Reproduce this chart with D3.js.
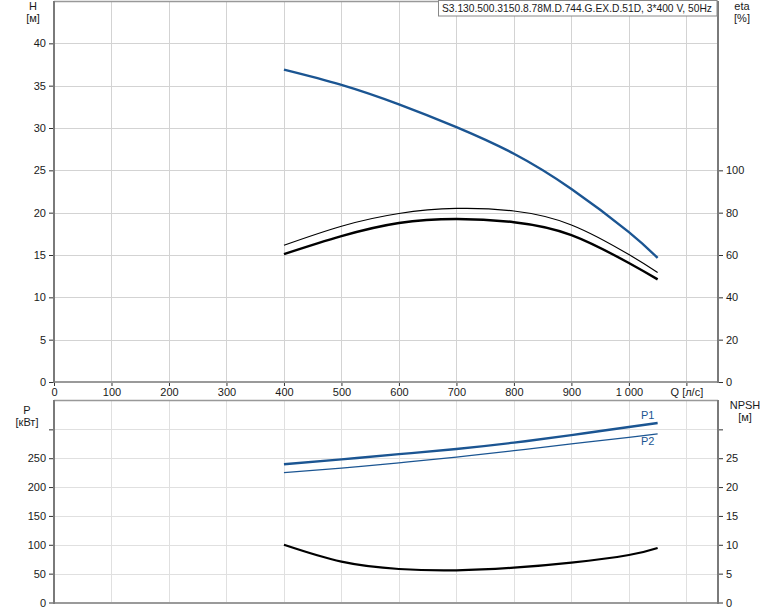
<!DOCTYPE html>
<html><head><meta charset="utf-8">
<script src="https://cdn.jsdelivr.net/npm/d3@7"></script>
<style>
html,body{margin:0;padding:0;background:#fff;}
svg{display:block;font-family:"Liberation Sans",Arial,sans-serif;}
</style></head>
<body>
<svg id="c" width="774" height="611"></svg>
<script>
// ---- data ----
const title = "S3.130.500.3150.8.78M.D.744.G.EX.D.51D, 3*400 V, 50Hz";
const q = [400, 500, 600, 700, 800, 900, 1000, 1050];
const head = [36.9, 35.1, 32.8, 30.1, 26.96, 22.8, 17.7, 14.65];
const etaPump = [64.6, 73.6, 79.6, 82.0, 80.8, 74.2, 60.2, 51.7];
const etaTotal = [60.4, 68.9, 75.1, 77.0, 75.5, 69.4, 56.2, 48.5];
const p1 = [239.5, 248, 257, 266, 277, 290, 304, 311];
const p2 = [225, 233, 242, 252, 263, 275, 286, 292];
const npsh = [10.0, 7.07, 5.8, 5.58, 6.03, 6.9, 8.23, 9.45];
const qTicks = [0, 100, 200, 300, 400, 500, 600, 700, 800, 900, 1000, 1100];
const qTickLabels = ["0","100","200","300","400","500","600","700","800","900","1 000","Q [л/с]"];
const hTicks = [0, 5, 10, 15, 20, 25, 30, 35, 40];
const hGrid = [0, 5, 10, 15, 20, 25, 30, 35, 40, 45];
const etaTicks = [0, 20, 40, 60, 80, 100];
const pTicks = [0, 50, 100, 150, 200, 250];
const pGrid = [0, 50, 100, 150, 200, 250, 300];
const nTicks = [0, 5, 10, 15, 20, 25];

// ---- layout ----
const L = 54, R = 718;
const svg = d3.select("#c");
const x = d3.scaleLinear().domain([0, 1155]).range([L, R]);
const yH = d3.scaleLinear().domain([0, 45]).range([382, 1]);
const yEta = d3.scaleLinear().domain([0, 180]).range([382, 1]);
const yP = d3.scaleLinear().domain([0, 350]).range([602.5, 400.5]);
const yN = d3.scaleLinear().domain([0, 35]).range([602.5, 400.5]);

const txt = "#1a1a1a";
const blue = "#1b5592";
const fs = 11;

function grid(yScale, vals, top, bottom, col) {
  const g = svg.append("g");
  g.selectAll(".h").data(vals).join("line")
    .attr("x1", L).attr("x2", R)
    .attr("y1", d => Math.round(yScale(d)) + 0.5).attr("y2", d => Math.round(yScale(d)) + 0.5)
    .attr("stroke", col).attr("stroke-width", 1);
  g.selectAll(".v").data(qTicks).join("line")
    .attr("x1", d => Math.round(x(d)) + 0.5).attr("x2", d => Math.round(x(d)) + 0.5)
    .attr("y1", top).attr("y2", bottom)
    .attr("stroke", col).attr("stroke-width", 1);
}
grid(yH, hGrid, 1, 382, "#d3d3d3");
grid(yP, pGrid, 400.5, 602.5, "#e0e0e0");

// frames
function frame(top, bottom) {
  svg.append("line").attr("x1", L).attr("x2", R).attr("y1", top + 0.5).attr("y2", top + 0.5)
    .attr("stroke", "#999").attr("stroke-width", 1.5);
  svg.append("line").attr("x1", L).attr("x2", R + 1).attr("y1", bottom).attr("y2", bottom)
    .attr("stroke", "#9a9a9a").attr("stroke-width", 2);
  svg.append("line").attr("x1", L).attr("x2", L).attr("y1", top).attr("y2", bottom + 1)
    .attr("stroke", "#7a7a7a").attr("stroke-width", 2);
  svg.append("line").attr("x1", R).attr("x2", R).attr("y1", top).attr("y2", bottom + 1)
    .attr("stroke", "#7a7a7a").attr("stroke-width", 2);
}
frame(1, 382);
frame(400, 603);

// axes via d3
function styleAxis(g) {
  g.select(".domain").remove();
  g.selectAll(".tick line").attr("stroke", "#333");
  g.selectAll(".tick text").attr("fill", txt).attr("font-size", fs)
    .attr("font-family", '"Liberation Sans",Arial,sans-serif');
}
svg.append("g").attr("transform", `translate(${L - 1},0)`)
  .call(d3.axisLeft(yH).tickValues(hTicks).tickSize(4).tickPadding(3).tickFormat(d3.format("d")))
  .call(styleAxis);
svg.append("g").attr("transform", `translate(${R + 1},0)`)
  .call(d3.axisRight(yEta).tickValues(etaTicks).tickSize(4).tickPadding(3).tickFormat(d3.format("d")))
  .call(styleAxis);
svg.append("g").attr("transform", `translate(0,383)`)
  .call(d3.axisBottom(x).tickValues(qTicks).tickSize(3).tickPadding(2)
    .tickFormat((d, i) => qTickLabels[i]))
  .call(styleAxis);
svg.append("g").attr("transform", `translate(${L - 1},0)`)
  .call(d3.axisLeft(yP).tickValues(pGrid).tickSize(4).tickPadding(3)
    .tickFormat(d => pTicks.includes(d) ? d3.format("d")(d) : ""))
  .call(styleAxis);
svg.append("g").attr("transform", `translate(${R + 1},0)`)
  .call(d3.axisRight(yN).tickValues(pGrid.map(d => d / 10)).tickSize(4).tickPadding(3)
    .tickFormat(d => nTicks.includes(d) ? d3.format("d")(d) : ""))
  .call(styleAxis);

// axis titles
function label(t, xx, yy, anchor, col) {
  return svg.append("text").attr("x", xx).attr("y", yy).attr("text-anchor", anchor || "middle")
    .attr("font-size", fs).attr("fill", col || txt).text(t);
}
label("H", 33, 10); label("[м]", 33, 22);
label("eta", 742, 10); label("[%]", 742, 22);
label("P", 27, 414); label("[кВт]", 27, 426);
label("NPSH", 745, 409); label("[м]", 745, 421);

// title box
svg.append("rect").attr("x", 438.5).attr("y", 0.5).attr("width", 278.5).attr("height", 15.5)
  .attr("fill", "#fff").attr("stroke", "#888").attr("stroke-width", 1);
label(title, 442, 12, "start").attr("textLength", 270).attr("lengthAdjust", "spacingAndGlyphs");

// curves
const line = (ys) => d3.line().curve(d3.curveNatural).x((d, i) => x(q[i])).y((d) => ys(d));
function curve(vals, ys, col, w) {
  svg.append("path").datum(vals).attr("d", line(ys)).attr("fill", "none")
    .attr("stroke", col).attr("stroke-width", w).attr("stroke-linecap", "butt");
}
curve(head, yH, blue, 2.4);
curve(etaPump, yEta, "#000", 1.2);
curve(etaTotal, yEta, "#000", 2.4);
curve(p1, yP, blue, 2.4);
curve(p2, yP, blue, 1.3);
curve(npsh, yN, "#000", 2.2);

label("P1", x(1050) - 10, 419, "middle", blue);
label("P2", x(1050) - 10, 445, "middle", blue);
</script>
</body></html>
